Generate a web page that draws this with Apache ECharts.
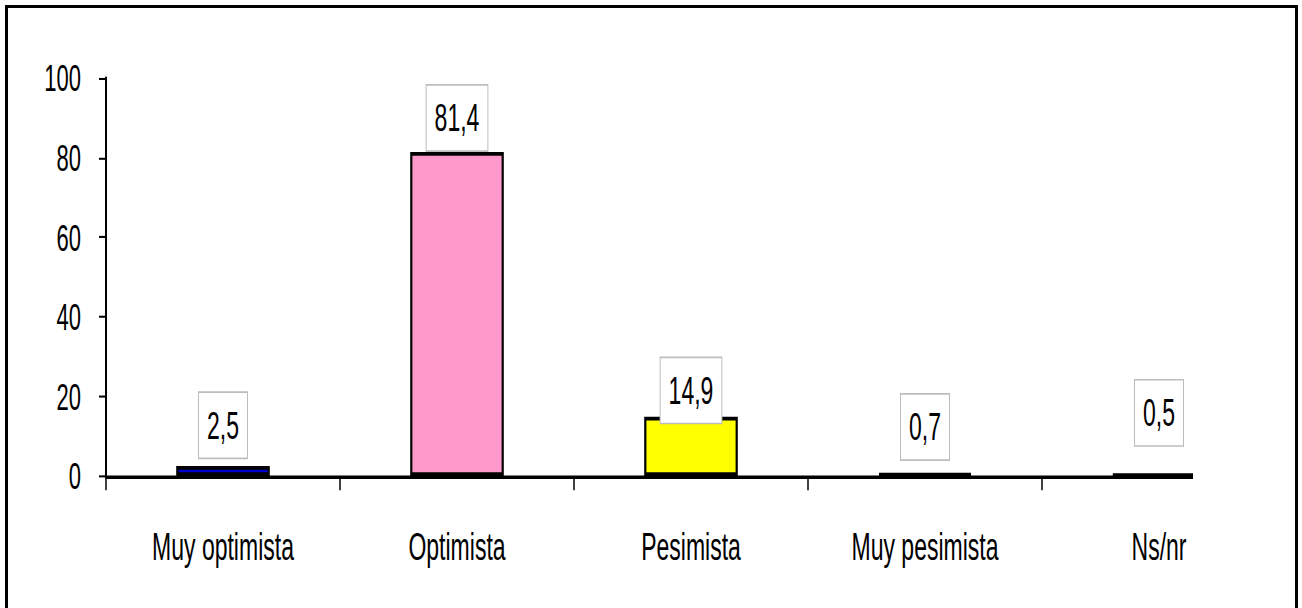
<!DOCTYPE html>
<html>
<head>
<meta charset="utf-8">
<script src="https://cdn.jsdelivr.net/npm/echarts@6/dist/echarts.min.js"></script>
<style>
  html, body { margin: 0; padding: 0; width: 1302px; height: 608px; overflow: hidden; background: #fff; }
  #frame { position: absolute; left: 5px; top: 5px; width: 1287px; height: 700px; border: 3px solid #000; pointer-events: none; z-index: 2; }
  #clip { position: absolute; left: 0; top: 0; width: 1193px; height: 608px; overflow: hidden; }
  /* the chart is drawn in a squat box and stretched tall, giving the tall narrow lettering */
  #chart { position: absolute; left: 0; top: 0; width: 1290px; height: 358px; transform-origin: 0 0; }
</style>
</head>
<body>
<div id="clip"><div id="chart"></div></div>
<div id="frame"></div>
<script>
// Opinion categories and percentages
const categories = ['Muy optimista', 'Optimista', 'Pesimista', 'Muy pesimista', 'Ns/nr'];
const values = [2.5, 81.4, 14.9, 0.7, 0.5];
const barColors = ['#0000cc', '#ff99cc', '#ffff00', '#ccffff', '#660066'];
const labelLift = [5, 1, -3.5, 8, 16.5];
const yTicks = { min: 0, max: 100, interval: 20 };

const STRETCH = 608 / 358;
document.getElementById('chart').style.transform = 'scaleY(' + STRETCH + ')';

const FONT = "'Liberation Sans', Arial, sans-serif";

const chart = echarts.init(document.getElementById('chart'), null, { renderer: 'svg' });

chart.setOption({
  animation: false,
  backgroundColor: '#fff',
  grid: { left: 106, top: 45.9, width: 1170, height: 234.4, outerBoundsMode: 'none' },
  xAxis: {
    type: 'category',
    z: 5,
    data: categories,
    axisLine: { lineStyle: { color: '#000', width: 2 } },
    axisTick: { show: true, length: 8.4, lineStyle: { color: '#000', width: 1.5 } },
    axisLabel: { color: '#000', fontFamily: FONT, fontSize: 23, margin: 30, interval: 0 }
  },
  yAxis: {
    type: 'value',
    min: yTicks.min,
    max: yTicks.max,
    interval: yTicks.interval,
    splitLine: { show: false },
    axisLine: { show: true, lineStyle: { color: '#000', width: 2 } },
    axisTick: { show: true, length: 7, lineStyle: { color: '#000', width: 1.2 } },
    axisLabel: { color: '#000', fontFamily: FONT, fontSize: 22, margin: 25 }
  },
  series: [{
    type: 'bar',
    barCategoryGap: '60%',
    data: values.map((v, i) => ({
      value: v,
      itemStyle: { color: barColors[i] },
      label: { distance: labelLift[i] }
    })),
    itemStyle: { borderColor: '#000', borderWidth: 2.2 },
    label: {
      show: true,
      position: 'top',
      color: '#000',
      fontFamily: FONT,
      fontSize: 23,
      lineHeight: 24,
      backgroundColor: '#fff',
      borderColor: '#bdbdbd',
      borderWidth: 1,
      padding: [7, 8],
      formatter: p => String(p.value).replace('.', ',')
    }
  }]
});
</script>
</body>
</html>
